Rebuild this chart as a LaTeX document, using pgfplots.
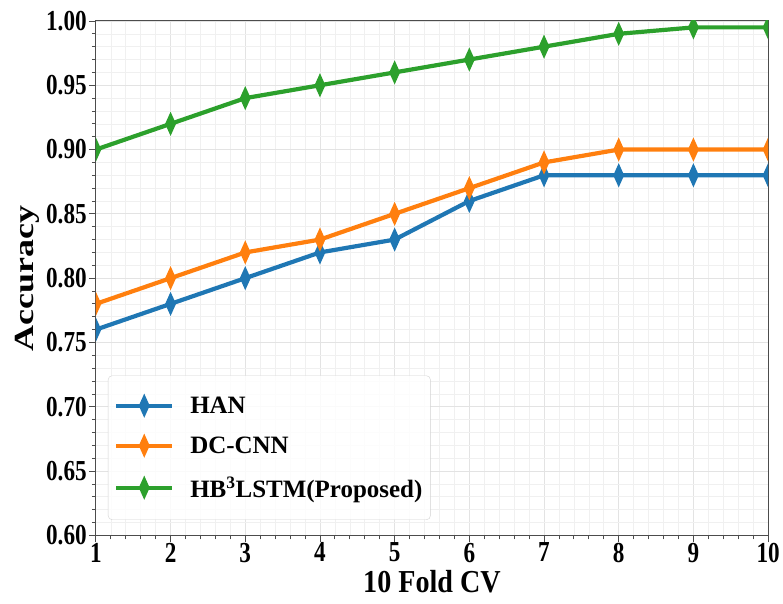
\documentclass[border=0pt]{standalone}
\usepackage{graphicx}
\usepackage{pgfplots}
\pgfplotsset{compat=1.18}
\usepackage{fontspec}
\setmainfont{Liberation Serif}
\definecolor{tblue}{HTML}{1F77B4}
\definecolor{torange}{HTML}{FF7F0E}
\definecolor{tgreen}{HTML}{2CA02C}
\begin{document}
\begin{tikzpicture}
\begin{axis}[
  scale only axis,
  width=673pt, height=515pt,
  xmin=1, xmax=10, ymin=0.6, ymax=1.0,
  xtick={1,2,...,10},
  ytick={0.6,0.65,...,1.0},
  minor x tick num=4,
  minor y tick num=4,
  grid=both,
  major grid style={gray!22, line width=0.8pt},
  minor grid style={gray!12, line width=0.6pt},
  axis line style={black!70, line width=1pt},
  tick align=outside,
  tick pos=left,
  major tick length=7pt,
  minor tick length=4pt,
  tick style={black!70, line width=0.8pt},
  /pgf/number format/assume math mode=true,
  yticklabel={\scalebox{0.8}[1]{\pgfmathprintnumber[fixed,fixed zerofill,precision=2]{\tick}}},
  xticklabel={\scalebox{0.8}[1]{\pgfmathprintnumber{\tick}}},
  ticklabel style={font=\bfseries\fontsize{29}{29}\selectfont},
  yticklabel style={inner xsep=2pt},
  xticklabel style={yshift=3pt},
  xlabel={\scalebox{0.88}[1]{10 Fold CV}},
  ylabel={\scalebox{1}[0.77]{Accuracy}},
  xlabel style={font=\bfseries\fontsize{32}{32}\selectfont, yshift=-1pt},
  ylabel style={font=\bfseries\fontsize{36}{36}\selectfont, yshift=1pt},
  clip marker paths=true,
  every axis plot/.append style={line width=4.2pt, mark=diamond*, mark size=7pt, mark options={xscale=0.6, solid}},
  legend style={at={(0.018,0.03)}, anchor=south west, draw=gray!35, rounded corners=4pt, fill=white, fill opacity=0.85, text opacity=1, font=\bfseries\fontsize{25}{25}\selectfont, row sep=18pt, inner xsep=6pt, inner ysep=19pt, cells={anchor=west}, /tikz/every odd column/.append style={column sep=14pt}},
  legend image code/.code={\draw[mark repeat=2,mark phase=2] plot coordinates {(0pt,0pt)(28pt,0pt)(56pt,0pt)};},
]
\addplot[color=tblue] coordinates {(1,0.76)(2,0.78)(3,0.80)(4,0.82)(5,0.83)(6,0.86)(7,0.88)(8,0.88)(9,0.88)(10,0.88)};
\addlegendentry{HAN}
\addplot[color=torange] coordinates {(1,0.78)(2,0.80)(3,0.82)(4,0.83)(5,0.85)(6,0.87)(7,0.89)(8,0.90)(9,0.90)(10,0.90)};
\addlegendentry{DC-CNN}
\addplot[color=tgreen] coordinates {(1,0.90)(2,0.92)(3,0.94)(4,0.95)(5,0.96)(6,0.97)(7,0.98)(8,0.99)(9,0.995)(10,0.995)};
\addlegendentry{HB\textsuperscript{3}LSTM(Proposed)}
\end{axis}
\path ([xshift=14pt,yshift=21pt]current axis.north east);
\path ([xshift=-96pt,yshift=-68pt]current axis.south west);
\end{tikzpicture}
\end{document}
